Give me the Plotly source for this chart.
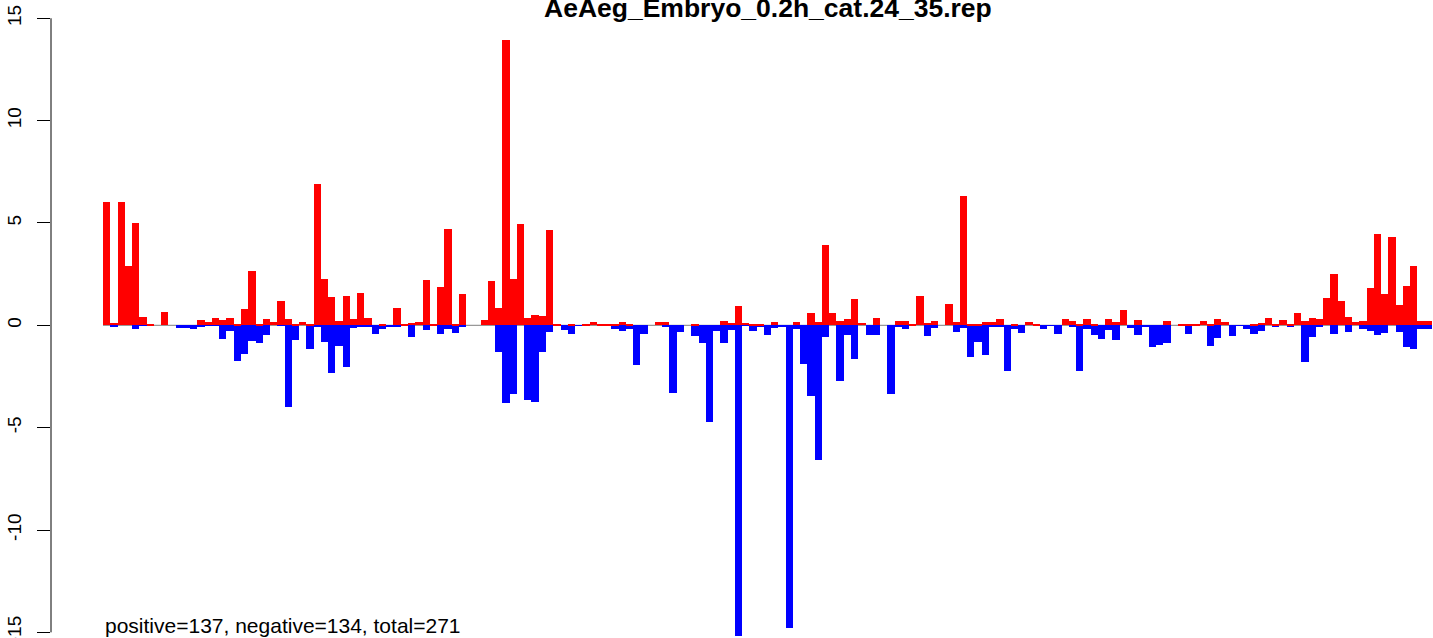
import plotly.graph_objects as go

title_text = "AeAeg_Embryo_0.2h_cat.24_35.rep"
footer_text = "positive=137, negative=134, total=271"

# positive (red) values per position
pos_vals = [
    6.0, 0.11, 6.0, 2.9, 5.0, 0.42, 0.07, 0, 0.65, 0,
    0, 0, 0, 0.26, 0.16, 0.36, 0.26, 0.36, 0.05, 0.8,
    2.65, 0.07, 0.31, 0.16, 1.19, 0.31, 0.07, 0.16, 0.07, 6.9,
    2.26, 1.38, 0.21, 1.43, 0.31, 1.58, 0.36, 0, 0.07, 0,
    0.85, 0.07, 0.11, 0.16, 2.21, 0.05, 1.87, 4.71, 0.07, 1.53,
    0, 0, 0.26, 2.17, 0.85, 13.94, 2.26, 4.93, 0.36, 0.5,
    0.46, 4.66, 0.03, 0, 0.07, 0, 0.02, 0.16, 0.07, 0.02,
    0.07, 0.16, 0.07, 0, 0, 0, 0.16, 0.16, 0, 0,
    0, 0.07, 0, 0, 0, 0.21, 0.11, 0.94, 0.11, 0.02,
    0.07, 0, 0.16, 0, 0, 0.16, 0, 0.6, 0.16, 3.93,
    0.6, 0.21, 0.31, 1.29, 0.11, 0, 0.36, 0, 0, 0.21,
    0.21, 0.07, 1.43, 0.11, 0.21, 0, 1.04, 0.16, 6.32, 0.07,
    0.07, 0.16, 0.16, 0.31, 0, 0.07, 0, 0.16, 0.07, 0,
    0, 0, 0.31, 0.21, 0.07, 0.31, 0.07, 0, 0.31, 0.16,
    0.75, 0, 0.26, 0, 0, 0, 0.21, 0, 0.02, 0.02,
    0.02, 0.21, 0.07, 0.31, 0.16, 0, 0, 0, 0.02, 0.11,
    0.36, 0.07, 0.26, 0.07, 0.6, 0.21, 0.36, 0.31, 1.34, 2.51,
    1.19, 0.41, 0.16, 0.21, 1.82, 4.46, 1.53, 4.32, 0.99, 1.92,
    2.9, 0.21, 0.21,
]

# negative (blue) values per position
neg_vals = [
    0, -0.08, 0, 0, -0.18, -0.03, -0.03, 0, 0, 0,
    -0.11, -0.11, -0.18, -0.07, -0.03, -0.03, -0.65, -0.26, -1.73, -1.38,
    -0.75, -0.85, -0.46, 0, -0.03, -3.97, -0.7, 0, -1.14, -0.07,
    -0.8, -2.31, -0.99, -2.02, -0.11, -0.07, -0.07, -0.41, -0.16, -0.07,
    -0.07, 0, -0.55, 0, -0.21, 0, -0.41, -0.16, -0.36, -0.07,
    0, 0, 0, 0, -1.29, -3.78, -3.34, 0, -3.63, -3.73,
    -1.29, -0.31, 0, -0.21, -0.41, -0.03, 0, 0, 0, 0,
    -0.16, -0.26, -0.16, -1.92, -0.41, 0, 0, -0.07, -3.29, -0.31,
    0, -0.5, -0.85, -4.72, -0.26, -0.85, -0.21, -15.2, -0.03, -0.26,
    -0.07, -0.46, -0.11, -0.07, -14.8, -0.18, -1.87, -3.44, -6.58, -0.55,
    0, -2.7, -0.46, -1.63, 0, -0.46, -0.46, 0, -3.34, -0.07,
    -0.16, 0, 0, -0.5, -0.11, 0, 0, -0.31, -0.11, -1.53,
    -0.8, -1.43, -0.07, -0.07, -2.21, -0.16, -0.36, 0, -0.03, -0.16,
    -0.03, -0.41, 0, -0.07, -2.21, -0.16, -0.46, -0.65, -0.21, -0.7,
    0, -0.11, -0.46, -0.07, -1.04, -0.94, -0.85, 0, 0, -0.41,
    0, 0, -0.99, -0.6, 0, -0.5, -0.03, -0.16, -0.41, -0.26,
    0, -0.07, 0, -0.07, 0, -1.78, -0.55, -0.07, 0, -0.41,
    0, -0.31, 0, -0.16, -0.26, -0.46, -0.36, 0, -0.31, -1.04,
    -1.14, -0.16, -0.16,
]

positions = list(range(len(pos_vals)))

y_tick_vals = [-15, -10, -5, 0, 5, 10, 15]
y_tick_text = ["-15", "-10", "-5", "0", "5", "10", "15"]

W, H = 1433, 638
ML = 51
plot_w = W - ML
bar_px = (1432 - 103) / len(pos_vals)
x0 = -0.5 - (103 - ML) / bar_px
x1 = x0 + plot_w / bar_px

px_per_unit = 20.47
y_top = 325.3 / px_per_unit
y_bot = -(H - 325.3) / px_per_unit

fig = go.Figure()
fig.add_trace(go.Bar(x=positions, y=neg_vals, width=1, marker=dict(color="#0000FF", line=dict(width=0)),
                     hoverinfo="x+y", showlegend=False))
fig.add_trace(go.Bar(x=positions, y=pos_vals, width=1, marker=dict(color="#FF0000", line=dict(width=0)),
                     hoverinfo="x+y", showlegend=False))

fig.update_layout(
    width=W, height=H,
    margin=dict(l=ML, r=0, t=0, b=0, autoexpand=False),
    paper_bgcolor="white", plot_bgcolor="white",
    barmode="overlay", bargap=0,
    font=dict(family="Liberation Sans, Arial, sans-serif", color="black"),
    xaxis=dict(range=[x0, x1], visible=False, showgrid=False, zeroline=False),
    yaxis=dict(range=[y_bot, y_top], showgrid=False, zeroline=False, showline=False,
               automargin=False, ticklabeloverflow="allow",
               tickmode="array", tickvals=y_tick_vals, ticktext=y_tick_text,
               ticks="outside", ticklen=13, tickwidth=1, tickcolor="black",
               tickangle=-90, tickfont=dict(size=19, color="black"),
               ticklabelstandoff=8),
    shapes=[
        dict(type="line", xref="paper", yref="y", x0=0, x1=0, y0=-15, y1=15,
             line=dict(color="black", width=1)),
        dict(type="line", xref="x", yref="y", x0=-0.5, x1=len(pos_vals) - 0.5, y0=0, y1=0,
             line=dict(color="#7f7f7f", width=1), layer="below"),
    ],
    annotations=[
        dict(text="<b>" + title_text + "</b>", xref="paper", yref="paper",
             x=(768 - ML) / plot_w, y=1, xanchor="center", yanchor="middle", yshift=-8,
             showarrow=False, font=dict(size=26.5, color="black")),
        dict(text=footer_text, xref="paper", yref="paper",
             x=(103 - ML) / plot_w, y=0, xanchor="left", yanchor="bottom", yshift=-1,
             showarrow=False, font=dict(size=21, color="black")),
    ],
)

fig.write_html(
    "out.html",
    config={"displayModeBar": False},
    post_script="document.body.style.margin='0';document.body.style.padding='0';document.body.style.overflow='hidden';",
)
